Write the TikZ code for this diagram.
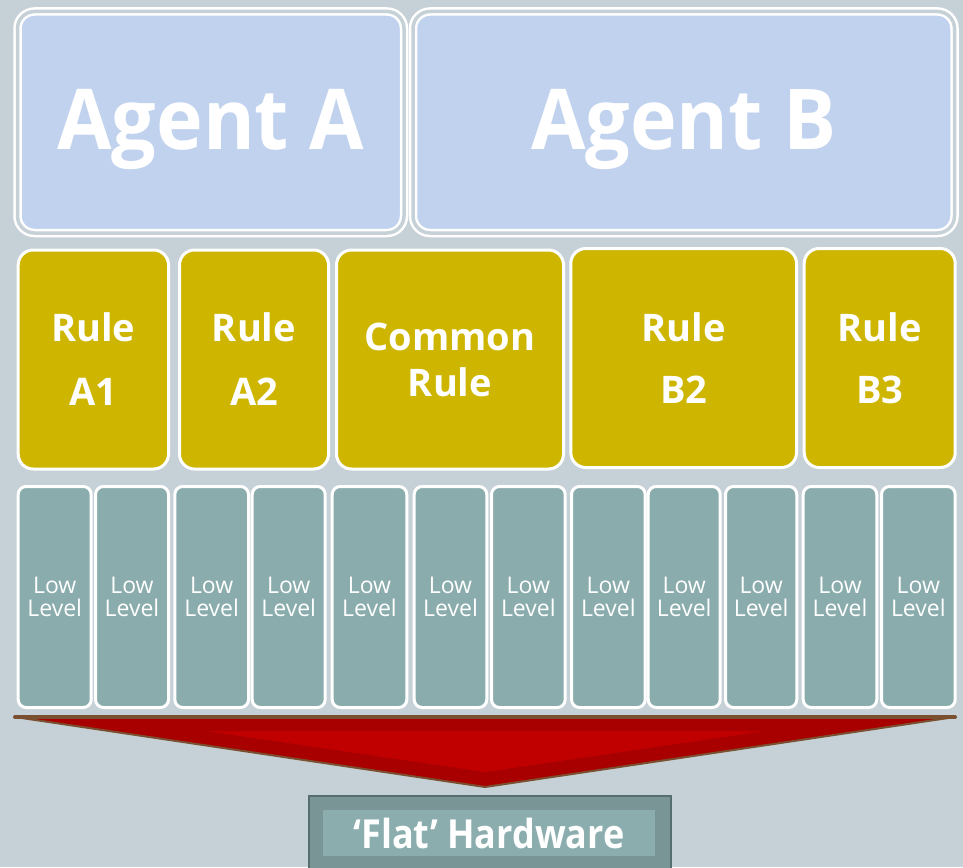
\documentclass[tikz,border=0pt]{standalone}
\usepackage{fontspec}
\setmainfont{Open Sans}
\definecolor{bgc}{HTML}{C6D1D7}
\definecolor{agentfill}{HTML}{C0D2EE}
\definecolor{rulefill}{HTML}{CDB500}
\definecolor{lowfill}{HTML}{8AACAC}
\definecolor{arrowdark}{HTML}{A80000}
\definecolor{arrowlight}{HTML}{C00000}
\definecolor{arrowedge}{HTML}{7A5030}
\definecolor{hwouter}{HTML}{7A9595}
\definecolor{hwinner}{HTML}{8BADAD}
\definecolor{hwedge}{HTML}{566E6E}
% agent captions: baseline set at a fixed offset below the box centre
\newcommand{\agentcap}[1]{\raisebox{-27pt}[0pt][0pt]{\scalebox{0.94}[1]{#1}}}
\tikzset{
  agentbox/.style={draw=white, double=bgc, double distance=3.5pt, line width=2.5pt,
    fill=agentfill, rounded corners=17pt, minimum height=221.5pt, inner sep=0pt,
    text=white, font=\fontsize{84}{84}\selectfont\bfseries},
  rulebox/.style={draw=white, line width=3pt, fill=rulefill, rounded corners=15pt,
    minimum height=219pt, inner sep=0pt, text=white, align=center},
  lowbox/.style={draw=white, line width=3pt, fill=lowfill, rounded corners=8pt,
    minimum height=221pt, inner sep=0pt, text=white, align=center,
    font=\fontsize{23}{23.5}\selectfont},
  rulefont/.style={font=\fontsize{38}{64}\selectfont\bfseries},
}
\begin{document}
\begin{tikzpicture}[x=1pt, y=-1pt]
  % canvas
  \fill[bgc] (0,0) rectangle (963,867);
  \useasboundingbox (0,0) rectangle (963,867);

  % agents
  \node[agentbox, minimum width=386.5pt] (agentA) at (210.75,122.25) {\agentcap{Agent A}};
  \node[agentbox, minimum width=541.5pt] (agentB) at (683.75,122.25) {\agentcap{Agent B}};

  % rules
  \node[rulebox, rulefont, minimum width=150.3pt] (ruleA1) at (93.35,359.5) {Rule\\A1};
  \node[rulebox, rulefont, minimum width=149pt] (ruleA2) at (254,359.5) {Rule\\A2};
  \node[rulebox, font=\fontsize{38}{46}\selectfont\bfseries, minimum width=227pt] (common) at (450,359.5) {Common\\Rule};
  \node[rulebox, font=\fontsize{38}{62}\selectfont\bfseries, minimum width=225.7pt] (ruleB2) at (683.65,358) {Rule\\B2};
  \node[rulebox, font=\fontsize{38}{62}\selectfont\bfseries, minimum width=151pt] (ruleB3) at (879.7,358) {Rule\\B3};

  % low level blocks
  \foreach \cx/\w [count=\i] in {54.7/73, 132/73, 211.65/73.7, 288.7/73, 369.5/74.6,
      450.5/72.6, 528.35/73.7, 608.35/73.7, 684.2/72, 761.15/71.3, 840/73.6, 918.35/73.7}
    \node[lowbox, minimum width=\w pt] (low\i) at (\cx,597) {Low\\Level};

  % red downward arrow
  \fill[arrowdark] (15,717) -- (955,717) -- (485,787) -- cycle;
  \fill[arrowlight] (206,731) -- (765,731) -- (485,772) -- cycle;
  \draw[arrowedge, line width=2pt, line join=round] (15,717) -- (485,787) -- (955,717);
  \draw[arrowedge, line width=4pt, line cap=round] (15,717) -- (955,717);

  % hardware
  \node[draw=hwedge, line width=2pt, fill=hwouter, minimum width=362pt, minimum height=80pt,
        anchor=north west, inner sep=0pt] (hwframe) at (308,795) {};
  \node[fill=hwinner, minimum width=332pt, minimum height=46pt, inner sep=0pt,
        text=white, font=\fontsize{40}{40}\selectfont\bfseries]
        (hw) at (489,833) {\scalebox{0.9}[1]{‘Flat’ Hardware}};
\end{tikzpicture}
\end{document}
